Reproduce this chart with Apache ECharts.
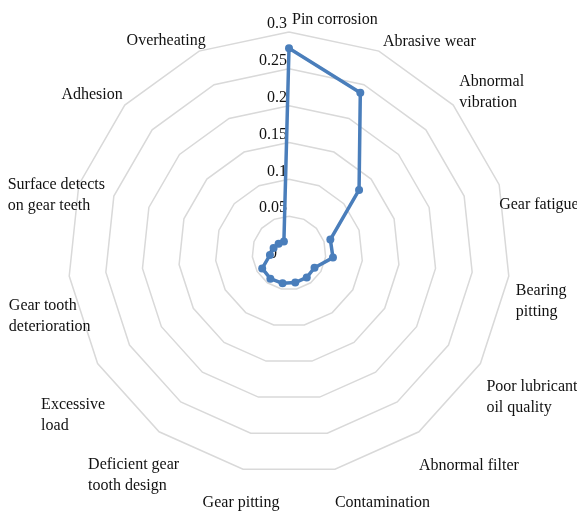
<!DOCTYPE html>
<html>
<head>
<meta charset="utf-8">
<style>
    html, body { margin: 0; padding: 0; background: #fff; }
    #chart { width: 577px; height: 513px; }
</style>
<script src="https://cdn.jsdelivr.net/npm/echarts@6/dist/echarts.min.js"></script>
</head>
<body>
<div id="chart"></div>
<script>
// 失效模式 (clockwise from top)
var categories = [
    'Pin corrosion', 'Abrasive wear', 'Abnormal\nvibration', 'Gear fatigue',
    'Bearing\npitting', 'Poor lubricant\noil quality', 'Abnormal filter', 'Contamination',
    'Gear pitting', 'Deficient gear\ntooth design', 'Excessive\nload', 'Gear tooth\ndeterioration',
    'Surface detects\non gear teeth', 'Adhesion', 'Overheating'
];
var values = [
    0.278, 0.238, 0.128, 0.059,
    0.060, 0.040, 0.041, 0.041,
    0.042, 0.043, 0.042, 0.026,
    0.022, 0.019, 0.017
];
var tickLabels = ['0', '0.05', '0.1', '0.15', '0.2', '0.25', '0.3'];
var maxValue = 0.3;

// 每个名称的对齐方式 [align, verticalAlign, padding]
var nameLayout = [
    ['left', 'bottom', [0, 0, 2, 3]],
    ['left', 'middle', [0, 0, 18, 4]],
    ['left', 'middle', [0, 0, 26, 6]],
    ['left', 'top', [10, 0, 0, 0]],
    ['left', 'top', [4, 0, 0, 7]],
    ['left', 'top', [13, 0, 0, 6]],
    ['left', 'top', [24, 0, 0, 0]],
    ['left', 'top', [23, 0, 0, 0]],
    ['center', 'top', [23, 4, 0, 0]],
    ['center', 'top', [23, 51, 0, 0]],
    ['center', 'top', [31, 49, 0, 0]],
    ['center', 'top', [19, 39, 0, 0]],
    ['center', 'middle', [22, 45, 0, 0]],
    ['right', 'bottom', [0, 2, 0, 0]],
    ['center', 'bottom', [0, 66, 0, 0]]
];

(function () {
    var myChart = echarts.init(document.getElementById('chart'));

    // echarts 雷达图是逆时针排列，这里把顺序倒过来（第一个保持在顶部）
    function ccw(arr) {
        return [arr[0]].concat(arr.slice(1).reverse());
    }
    var names = ccw(categories);
    var data = ccw(values);
    var layouts = ccw(nameLayout);

    var indicator = names.map(function (n, i) {
        var item = {
            name: n,
            max: maxValue,
            min: 0,
            nameMoveOverlap: false,
            nameTextStyle: {
                align: layouts[i][0],
                verticalAlign: layouts[i][1],
                padding: layouts[i][2]
            }
        };
        if (i === 0) {
            item.axisLabel = {
                show: true,
                color: '#111',
                fontFamily: 'Liberation Serif',
                fontSize: 16,
                lineHeight: 16,
                margin: 2,
                verticalAlign: 'bottom',
                formatter: function (v) {
                    var idx = Math.round(v / 0.05);
                    if (idx === 0) return '{z|0}';
                    return tickLabels[idx] !== undefined ? tickLabels[idx] : '';
                },
                rich: {
                    // “0” 稍微往左下
                    z: {
                        color: '#111',
                        fontFamily: 'Liberation Serif',
                        fontSize: 16,
                        lineHeight: 16,
                        padding: [18, 10, 0, 0]
                    }
                }
            };
        }
        return item;
    });

    var option = {
        animation: false,
        radar: {
            center: [289, 253],
            radius: 221,
            startAngle: 90,
            shape: 'polygon',
            splitNumber: 6,
            indicator: indicator,
            axisName: {
                color: '#111',
                fontFamily: 'Liberation Serif',
                fontSize: 16,
                lineHeight: 21,
                // 多行文字左对齐
                formatter: function (name) {
                    return name.split('\n').map(function (s) {
                        return '{l|' + s + '}';
                    }).join('\n');
                },
                rich: {
                    l: {
                        align: 'left',
                        color: '#111',
                        fontFamily: 'Liberation Serif',
                        fontSize: 16,
                        lineHeight: 21
                    }
                }
            },
            nameGap: 0,
            axisLine: { show: false },
            axisTick: { show: false },
            axisLabel: { show: false },
            splitArea: { show: false },
            splitLine: {
                lineStyle: { color: '#d9d9d9', width: 1.5 }
            }
        },
        series: [
            {
                type: 'radar',
                symbol: 'circle',
                symbolSize: 8,
                lineStyle: { color: '#4a7ebb', width: 3.5 },
                itemStyle: { color: '#4a7ebb' },
                data: [{ value: data, name: 'Failure mode' }]
            }
        ]
    };
    myChart.setOption(option);
})();
</script>
</body>
</html>
